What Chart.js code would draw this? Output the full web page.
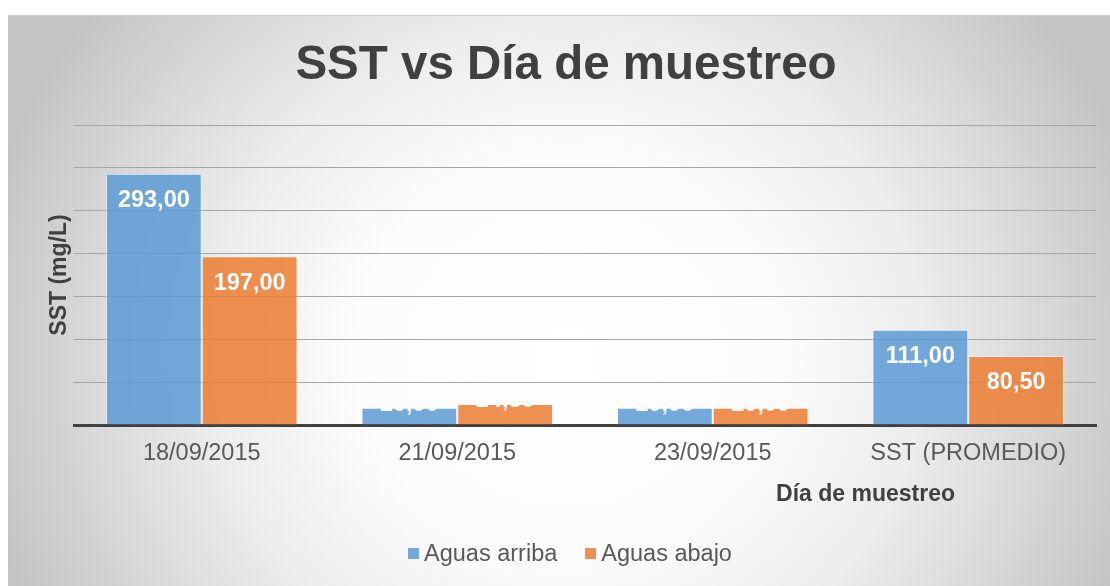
<!DOCTYPE html>
<html>
<head>
<meta charset="utf-8">
<script src="https://cdn.jsdelivr.net/npm/chart.js@4.4.0/dist/chart.umd.min.js"></script>
<style>
    body { margin: 0; background: #ffffff; width: 1110px; height: 586px; overflow: hidden; position: relative; }
    #box { position: absolute; left: 8px; top: 15px; width: 1102px; height: 571px; border-top: 1px solid #cfcfcf; box-sizing: border-box; }
    #box canvas { position: absolute; left: 0; top: 0; }
    #legend { position: absolute; left: 0; width: 1102px; top: 524px; display: flex; justify-content: center; padding-left: 22px; box-sizing: border-box;
        font-family: "Liberation Sans", Arial, sans-serif; font-size: 23.5px; color: #595959; }
    .item { display: flex; align-items: center; margin: 0 14px; }
    .swatch { width: 11px; height: 11px; margin-right: 5px; }
</style>
</head>
<body>
<div id="box">
    <canvas id="sstChart" width="1102" height="570"></canvas>
    <div id="legend"></div>
</div>
<script>
// datos del grafico
const dias = ['18/09/2015', '21/09/2015', '23/09/2015', 'SST (PROMEDIO)'];
const aguasArriba = [293, 20, 20, 111];
const aguasAbajo = [197, 24.5, 20, 80.5];
const seriesNames = ['Aguas arriba', 'Aguas abajo'];
const yTicks = [0, 50, 100, 150, 200, 250, 300, 350];

const FONT = '"Liberation Sans", Arial, sans-serif';
const colors = ['rgba(91,155,213,0.85)', 'rgba(237,125,49,0.85)'];

// fondo con degradado radial
const bgPlugin = {
    id: 'bgPlugin',
    beforeDraw(chart) {
        const ctx = chart.ctx;
        const w = chart.width, h = chart.height;
        const cx = 558, cy = 340, rx = 600, ry = 560;
        ctx.save();
        ctx.translate(cx, cy);
        ctx.scale(rx / ry, 1);
        const g = ctx.createRadialGradient(0, 0, 0, 0, 0, ry);
        g.addColorStop(0, '#ffffff');
        g.addColorStop(0.35, '#fcfcfc');
        g.addColorStop(0.6, '#ececec');
        g.addColorStop(1, '#c4c4c4');
        ctx.fillStyle = g;
        ctx.fillRect(-cx * ry / rx, -cy, w * ry / rx, h);
        ctx.restore();
    }
};

// etiquetas de datos y titulo del eje x
const labelPlugin = {
    id: 'labelPlugin',
    afterDatasetsDraw(chart) {
        const ctx = chart.ctx;
        chart.data.datasets.forEach((ds, i) => {
            chart.getDatasetMeta(i).data.forEach((bar, j) => {
                const txt = ds.data[j].toFixed(2).replace('.', ',');
                const hgt = bar.base - bar.y;
                ctx.save();
                ctx.font = 'bold 23.5px ' + FONT;
                ctx.fillStyle = '#ffffff';
                ctx.textAlign = 'center';
                ctx.textBaseline = 'middle';
                if (hgt > 45) {
                    ctx.fillText(txt, bar.x, bar.y + 27);
                } else {
                    // la etiqueta no cabe: solo se ve la parte sobre la barra
                    ctx.beginPath();
                    ctx.rect(bar.x - bar.width / 2, bar.y, bar.width, hgt);
                    ctx.clip();
                    ctx.fillText(txt, bar.x, bar.y - 3);
                }
                ctx.restore();
            });
        });
    },
    afterDraw(chart) {
        const ctx = chart.ctx;
        const area = chart.chartArea;
        ctx.save();
        ctx.font = 'bold 23px ' + FONT;
        ctx.fillStyle = '#404040';
        ctx.textAlign = 'right';
        ctx.textBaseline = 'middle';
        ctx.fillText('Día de muestreo', area.right - 141, area.bottom + 70);
        ctx.restore();
    }
};

const ctx = document.getElementById('sstChart').getContext('2d');
const chart = new Chart(ctx, {
    type: 'bar',
    data: {
        labels: dias,
        datasets: [{
            label: seriesNames[0],
            data: aguasArriba,
            backgroundColor: colors[0],
            borderColor: 'rgba(255,255,255,0.55)',
            borderWidth: 1
        }, {
            label: seriesNames[1],
            data: aguasAbajo,
            backgroundColor: colors[1],
            borderColor: 'rgba(255,255,255,0.55)',
            borderWidth: 1
        }]
    },
    options: {
        responsive: false,
        animation: false,
        categoryPercentage: 0.75,
        barPercentage: 1.0,
        layout: { padding: { left: 28, right: 14, top: 0, bottom: 0 } },
        plugins: {
            legend: { display: false },
            tooltip: { enabled: false },
            title: {
                display: true,
                text: 'SST vs Día de muestreo',
                color: '#404040',
                font: { family: FONT, size: 47.5, weight: 'bold' },
                padding: { top: 21, bottom: 31 }
            }
        },
        scales: {
            x: {
                grid: { display: false, drawTicks: false },
                border: { display: true, color: '#404040', width: 3 },
                ticks: {
                    color: '#595959',
                    font: { family: FONT, size: 23.5 },
                    padding: 14
                },
                afterFit(scale) { scale.height = 161; }
            },
            y: {
                min: yTicks[0],
                max: yTicks[yTicks.length - 1],
                afterBuildTicks(scale) { scale.ticks = yTicks.map(v => ({ value: v })); },
                ticks: { display: false },
                grid: { color: '#a6a6a6', lineWidth: 1, drawTicks: false },
                border: { display: false },
                title: {
                    display: true,
                    text: 'SST (mg/L)',
                    color: '#404040',
                    font: { family: FONT, size: 23, weight: 'bold' },
                    padding: { top: 10, bottom: 0 }
                },
                afterFit(scale) { scale.width = 38; }
            }
        }
    },
    plugins: [bgPlugin, labelPlugin]
});

// leyenda
const legend = document.getElementById('legend');
seriesNames.forEach((name, i) => {
    const item = document.createElement('div');
    item.className = 'item';
    const sw = document.createElement('span');
    sw.className = 'swatch';
    sw.style.background = colors[i];
    const label = document.createElement('span');
    label.textContent = name;
    item.appendChild(sw);
    item.appendChild(label);
    legend.appendChild(item);
});
</script>
</body>
</html>
